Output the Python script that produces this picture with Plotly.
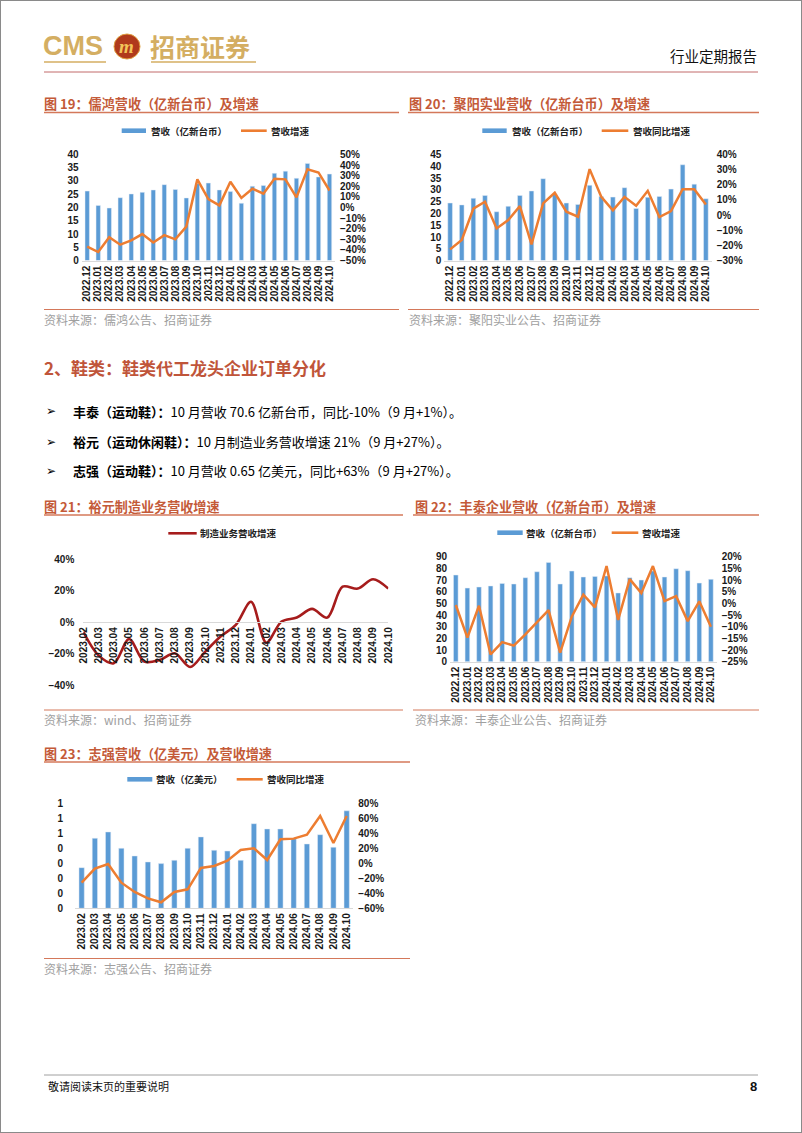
import plotly.graph_objects as go

W, H = 802, 1133
def fx(p): return p / W
def fy(p): return 1 - p / H

# ---------------- data ----------------
months_a = ["2022.12", "2023.01", "2023.02", "2023.03", "2023.04", "2023.05", "2023.06",
            "2023.07", "2023.08", "2023.09", "2023.10", "2023.11", "2023.12", "2024.01",
            "2024.02", "2024.03", "2024.04", "2024.05", "2024.06", "2024.07", "2024.08",
            "2024.09", "2024.10"]
months_b = ["2023.02", "2023.03", "2023.04", "2023.05", "2023.06", "2023.07", "2023.08",
            "2023.09", "2023.10", "2023.11", "2023.12", "2024.01", "2024.02", "2024.03",
            "2024.04", "2024.05", "2024.06", "2024.07", "2024.08", "2024.09", "2024.10"]

# 图19 儒鸿
rev_ruhong = [26.2, 20.8, 19.8, 23.7, 25.1, 25.7, 26.6, 28.6, 26.8, 23.6, 29.0, 29.2, 26.6,
              26.0, 21.6, 28.0, 28.3, 32.9, 33.7, 31.0, 36.6, 31.5, 32.6]
yoy_ruhong = [-0.368, -0.419, -0.28, -0.35, -0.31, -0.25, -0.33, -0.26, -0.30, -0.18, 0.265,
              0.08, 0.02, 0.243, 0.09, 0.177, 0.13, 0.27, 0.265, 0.095, 0.36, 0.33, 0.16]
# 图20 聚阳
rev_juyang = [24.4, 23.6, 26.4, 27.6, 20.7, 23.0, 27.6, 29.5, 34.7, 28.0, 24.4, 23.8, 31.9,
              27.2, 26.9, 30.9, 22.1, 26.8, 27.2, 30.3, 40.6, 32.4, 26.2]
yoy_juyang = [-0.226, -0.164, 0.042, 0.088, -0.088, -0.033, 0.059, -0.193, 0.077, 0.147, 0.022,
              -0.011, 0.303, 0.121, 0.031, 0.12, 0.061, 0.16, -0.013, 0.026, 0.171, 0.171, 0.07]
# 图21 裕元
yoy_yuyuan = [-0.06, -0.21, -0.26, -0.106, -0.25, -0.24, -0.197, -0.284, -0.186, -0.09, -0.017,
              0.13, -0.13, 0.005, 0.03, 0.085, 0.03, 0.226, 0.214, 0.273, 0.214]
# 图22 丰泰
rev_fengtai = [74.3, 63.1, 64.0, 64.9, 67.1, 66.6, 72.0, 77.1, 85.1, 66.6, 77.7, 72.6, 73.1,
               73.5, 58.9, 72.0, 70.0, 77.7, 72.6, 79.7, 78.0, 67.4, 70.6]
yoy_fengtai = [-0.007, -0.147, -0.01, -0.219, -0.166, -0.181, -0.133, -0.083, -0.029, -0.211,
               -0.057, 0.037, -0.017, 0.16, -0.071, 0.104, 0.044, 0.16, 0.01, 0.031, -0.076,
               0.009, -0.10]
# 图23 志强
rev_zhiqiang = [0.271, 0.467, 0.509, 0.40, 0.349, 0.309, 0.298, 0.32, 0.40, 0.476, 0.387, 0.382,
                0.32, 0.564, 0.529, 0.529, 0.464, 0.429, 0.491, 0.407, 0.65]
yoy_zhiqiang = [-0.258, -0.071, -0.009, -0.258, -0.382, -0.467, -0.52, -0.382, -0.347, -0.062,
                -0.036, 0.036, 0.178, 0.20, 0.044, 0.32, 0.329, 0.382, 0.631, 0.27, 0.63]
zq_left_vals = [0, 0.1, 0.2, 0.3, 0.4, 0.5, 0.6, 0.7]
zq_left_text = ["0", "0", "0", "0", "0", "1", "1", "1"]

# ---------------- styles ----------------
BLUE = "#5B9BD5"
ORANGE = "#ED7D31"
DARKRED = "#A61C1C"
TITLE_C = "#C45A38"
RULE_C = "#D4785A"
GOLD = "#D4AE62"
CJK = "Noto Sans CJK SC"
TICKFONT = dict(family="Liberation Sans, Arial", size=10, color="#1a1a1a", weight="bold")

fig = go.Figure()
layout = {}
shapes = []
ann = []

def text(t, x, y, size, color="#000", bold=False, xanchor="left", family=CJK):
    ann.append(dict(text=t, x=fx(x), y=fy(y), xref="paper", yref="paper", showarrow=False,
                    xanchor=xanchor, yanchor="middle",
                    font=dict(family=family, size=size, color=color,
                              weight="bold" if bold else "normal")))

def hline(x0, x1, y, color, width=1):
    shapes.append(dict(type="line", xref="paper", yref="paper", x0=fx(x0), x1=fx(x1),
                       y0=fy(y), y1=fy(y), line=dict(color=color, width=width)))

def leg_bar(x0, x1, y, label, tx):
    shapes.append(dict(type="rect", xref="paper", yref="paper", x0=fx(x0), x1=fx(x1),
                       y0=fy(y + 2.3), y1=fy(y - 2.3), fillcolor=BLUE, line_width=0))
    text(label, tx, y, 9.5, "#222", True)

def leg_line(x0, x1, y, label, tx, color=ORANGE):
    hline(x0, x1, y, color, 2.6)
    text(label, tx, y, 9.5, "#222", True)

def ax_name(kind, i):
    return kind if i == 1 else f"{kind}{i}"

def combo(k, cats, bars, line, x0, x1, ytop, ybot, lrange, ldtick, rrange, rdtick, bargap,
          lvals=None, ltext=None, lstand=2):
    xid = ax_name("x", k)
    yl = ax_name("y", 2 * k - 1)
    yr = ax_name("y", 2 * k)
    fig.add_trace(go.Bar(x=cats, y=bars, marker_color=BLUE, xaxis=xid, yaxis=yl,
                         showlegend=False))
    fig.add_trace(go.Scatter(x=cats, y=line, mode="lines", line=dict(color=ORANGE, width=2.5),
                             xaxis=xid, yaxis=yr, showlegend=False))
    layout[ax_name("xaxis", k)] = dict(domain=[fx(x0), fx(x1)], anchor=yl, type="category",
                                       tickmode="linear", dtick=1, automargin=False,
                                       tickangle=-90, showline=True, linecolor="#D9D9D9",
                                       linewidth=1, ticks="", showgrid=False, tickfont=TICKFONT)
    ly = dict(domain=[fy(ybot), fy(ytop)], anchor=xid, range=lrange, showgrid=False,
              zeroline=False, showline=False, ticks="", tickfont=TICKFONT,
              ticklabelstandoff=lstand, automargin=False)
    if lvals is not None:
        ly.update(tickmode="array", tickvals=lvals, ticktext=ltext)
    else:
        ly.update(dtick=ldtick, tick0=0)
    layout[ax_name("yaxis", 2 * k - 1)] = ly
    layout[ax_name("yaxis", 2 * k)] = dict(overlaying=yl, side="right", anchor=xid,
                                           range=rrange, dtick=rdtick, tick0=0,
                                           tickformat=".0%", showgrid=False, zeroline=False,
                                           showline=False, ticks="", tickfont=TICKFONT,
                                           ticklabelstandoff=4, automargin=False)
    fig.update_layout(bargap=bargap)

# ---------------- charts ----------------
# 图19
combo(1, months_a, rev_ruhong, yoy_ruhong, 81.7, 335, 154.4, 260.6, [0, 40], 5,
      [-0.5, 0.5], 0.1, 0.55)
# 图20
combo(2, months_a, rev_juyang, yoy_juyang, 444.3, 711.7, 154.4, 260.6, [0, 45], 5,
      [-0.3, 0.4], 0.1, 0.55)
# 图22
combo(4, months_a, rev_fengtai, yoy_fengtai, 450, 716.7, 556.7, 661.7, [0, 90], 10,
      [-0.25, 0.2], 0.05, 0.58)
# 图23
combo(5, months_b, rev_zhiqiang, yoy_zhiqiang, 75, 353.3, 803.3, 908.3, [0, 0.7], None,
      [-0.6, 0.8], 0.2, 0.6, lvals=zq_left_vals, ltext=zq_left_text, lstand=11)

# 图21 (line only)
fig.add_trace(go.Scatter(x=months_b, y=yoy_yuyuan, mode="lines",
                         line=dict(color=DARKRED, width=2.6, shape="spline", smoothing=0.9),
                         xaxis="x3", yaxis="y5", showlegend=False))
layout["xaxis3"] = dict(domain=[fx(83.3), fx(388.3)], anchor="free", position=fy(622.3),
                        type="category", tickmode="linear", dtick=1, automargin=False,
                        tickangle=-90, showline=True, linecolor="#D9D9D9",
                        linewidth=1, ticks="", showgrid=False, tickfont=TICKFONT)
layout["yaxis5"] = dict(domain=[fy(685.3), fy(559.3)], anchor="x3", range=[-0.4, 0.4],
                        dtick=0.2, tickformat=".0%", showgrid=False, zeroline=False,
                        showline=False, ticks="", tickfont=TICKFONT, ticklabelstandoff=8,
                        automargin=False)

# ---------------- legends ----------------
leg_bar(121.7, 146, 130.7, "营收（亿新台币）", 149)
leg_line(241, 266.7, 130.7, "营收增速", 269)
leg_bar(482.3, 506.7, 130.7, "营收（亿新台币）", 510)
leg_line(601.7, 628.3, 130.7, "营收同比增速", 631)
leg_line(168.3, 196.7, 533.3, "制造业务营收增速", 198, DARKRED)
leg_bar(497.3, 522.7, 532.7, "营收（亿新台币）", 524)
leg_line(611.7, 638.3, 532.7, "营收增速", 640)
leg_bar(127.3, 152.3, 779.3, "营收（亿美元）", 154)
leg_line(236.7, 262.7, 779.3, "营收同比增速", 265)

# ---------------- titles / rules / sources ----------------
TS = 13.1
SS = 12
text("图 19：儒鸿营收（亿新台币）及增速", 42, 103.5, TS, TITLE_C, True)
hline(44, 399, 112.5, RULE_C, 1.5)
text("图 20：聚阳实业营收（亿新台币）及增速", 407, 103.5, TS, TITLE_C, True)
hline(408, 759, 112.5, RULE_C, 1.5)
hline(44, 399, 309.5, RULE_C, 1)
text("资料来源：儒鸿公告、招商证券", 42, 319.5, SS, "#A0A0A0")
hline(408, 759, 309.5, RULE_C, 1)
text("资料来源：聚阳实业公告、招商证券", 407, 319.5, SS, "#A0A0A0")

text("2、鞋类：鞋类代工龙头企业订单分化", 42, 367, 17, "#C0553A", True)

bullets = [
    ("丰泰（运动鞋）：", "10 月营收 70.6 亿新台币，同比-10%（9 月+1%）。", 411.5),
    ("裕元（运动休闲鞋）：", "10 月制造业务营收增速 21%（9 月+27%）。", 441.5),
    ("志强（运动鞋）：", "10 月营收 0.65 亿美元，同比+63%（9 月+27%）。", 470.5),
]
for b, rest, yy in bullets:
    text("➢", 44, yy, 12, "#000", False, family="DejaVu Sans")
    text(f"<b>{b}</b>{rest}", 71, yy, 13, "#000")

text("图 21：裕元制造业务营收增速", 42, 506, TS, TITLE_C, True)
hline(44, 403, 515, RULE_C, 1.5)
text("图 22：丰泰企业营收（亿新台币）及增速", 413, 506, TS, TITLE_C, True)
hline(413, 759, 515, RULE_C, 1.5)
hline(44, 403, 710, RULE_C, 1)
text("资料来源：wind、招商证券", 42, 719.5, SS, "#A0A0A0")
hline(413, 759, 710, RULE_C, 1)
text("资料来源：丰泰企业公告、招商证券", 413, 719.5, SS, "#A0A0A0")

text("图 23：志强营收（亿美元）及营收增速", 42, 753, TS, TITLE_C, True)
hline(44, 410, 762, RULE_C, 1.5)
hline(44, 410, 958.5, RULE_C, 1)
text("资料来源：志强公告、招商证券", 42, 968, SS, "#A0A0A0")

# ---------------- header / footer ----------------
text("CMS", 41, 46, 27, GOLD, True, family="Liberation Sans")
hline(44, 106, 62, GOLD, 1.5)
shapes.append(dict(type="circle", xref="paper", yref="paper", x0=fx(114), x1=fx(140),
                   y0=fy(59), y1=fy(34), fillcolor="#B03A1C", line=dict(color="#E0A040", width=1)))
ann.append(dict(text="<i><b>m</b></i>", x=fx(127), y=fy(46.5), xref="paper", yref="paper",
                showarrow=False, xanchor="center", yanchor="middle",
                font=dict(family="Liberation Serif", size=19, color="#F2C45A")))
text("招商证券", 148, 46, 25, GOLD, True)
hline(151, 256, 62, GOLD, 1.5)
text("行业定期报告", 759, 56, 14.5, "#111", False, xanchor="right")
hline(44, 758, 72, "#C26A6A", 1)

hline(44, 758, 1075, "#A0A0A0", 1)
text("敬请阅读末页的重要说明", 46, 1086, 11, "#111")
text("8", 759, 1086, 13, "#111", True, xanchor="right", family="Liberation Sans")

# page frame
shapes.append(dict(type="rect", xref="paper", yref="paper", x0=0, x1=1, y0=0, y1=1,
                   line=dict(color="#8a8a8a", width=2), fillcolor="rgba(0,0,0,0)"))

fig.update_layout(width=W, height=H, margin=dict(l=0, r=0, t=0, b=0, autoexpand=False),
                  paper_bgcolor="white", plot_bgcolor="white",
                  shapes=shapes, annotations=ann, **layout)
fig.write_html("out.html", config={"displayModeBar": False, "responsive": False},
               post_script="document.body.style.margin='0';document.body.style.overflow='hidden';")
